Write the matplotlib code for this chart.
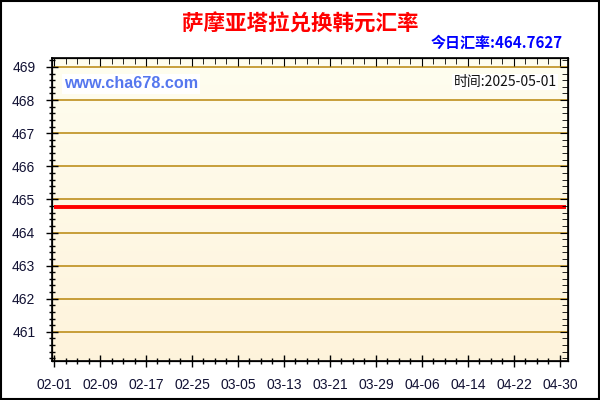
import matplotlib
matplotlib.use("Agg")
import matplotlib.pyplot as plt
import matplotlib.dates as mdates
import numpy as np
from datetime import datetime

plt.rcParams['font.family'] = ['Liberation Sans', 'Noto Sans CJK SC', 'DejaVu Sans']

title = "萨摩亚塔拉兑换韩元汇率"
today_label = "今日汇率:464.7627"
site = "www.cha678.com"
time_label = "时间:2025-05-01"
dates = ["2025-02-01", "2025-05-01"]
rates = [464.7627, 464.7627]
x_ticks = ["02-01", "02-09", "02-17", "02-25", "03-05", "03-13", "03-21",
           "03-29", "04-06", "04-14", "04-22", "04-30"]
y_ticks = [461, 462, 463, 464, 465, 466, 467, 468, 469]

fig = plt.figure(figsize=(6, 4), dpi=100)
fig.patch.set_facecolor('white')
fig.add_artist(plt.Rectangle((0.001, 0.002), 0.997, 0.996, transform=fig.transFigure,
                             fill=False, edgecolor='black', linewidth=1.5))

ax = fig.add_axes([52/600, (400-361)/400, 516/600, (361-58)/400])

xd = [mdates.date2num(datetime.strptime(d, "%Y-%m-%d")) for d in dates]
x0 = mdates.date2num(datetime(2025, 2, 1))
tick_pos = [mdates.date2num(datetime.strptime("2025-" + t, "%Y-%m-%d")) for t in x_ticks]
xlim = (x0 - 0.35, tick_pos[-1] + 1.4)
ylim = (460.12, 469.27)

grad = np.linspace(0, 1, 256).reshape(256, 1, 1)
top = np.array([1.0, 0.996, 0.94])
bot = np.array([0.996, 0.953, 0.86])
img = top + (bot - top) * grad * np.ones((1, 1, 3))
ax.imshow(img, extent=[xlim[0], xlim[1], ylim[0], ylim[1]], aspect='auto',
          origin='upper', zorder=0)

for y in y_ticks:
    ax.axhline(y, color='#B8860B', linewidth=1.1, zorder=1)

ax.plot(xd, rates, color='#FF0000', linewidth=2.8, zorder=3, solid_capstyle='butt')

ax.set_xlim(*xlim)
ax.set_ylim(*ylim)
ax.set_xticks(tick_pos)
ax.set_xticklabels(x_ticks)
ax.set_xticks(np.arange(x0, tick_pos[-1] + 1, 2), minor=True)
ax.set_yticks(y_ticks)
ax.set_yticklabels([str(v) for v in y_ticks])
ax.set_yticks(np.arange(460.2, 469.3, 0.2), minor=True)
ax.tick_params(axis='both', which='major', direction='inout', length=8, width=1,
               labelsize=10, colors='black', labelcolor='#111133')
ax.tick_params(axis='both', which='minor', direction='inout', length=5, width=1)
ax.tick_params(axis='y', which='major', pad=8)
ax.tick_params(axis='x', which='major', pad=8)
for s in ax.spines.values():
    s.set_linewidth(1.2)
    s.set_color('black')

axr = ax.twinx()
axr.set_ylim(*ylim)
axr.set_yticks(y_ticks)
axr.set_yticks(np.arange(460.2, 469.3, 0.2), minor=True)
axr.tick_params(axis='y', which='major', direction='in', length=6, labelright=False)
axr.tick_params(axis='y', which='minor', direction='in', length=4)
axt = ax.twiny()
axt.set_xlim(*xlim)
axt.set_xticks(tick_pos)
axt.set_xticks(np.arange(x0, tick_pos[-1] + 1, 2), minor=True)
axt.tick_params(axis='x', which='major', direction='in', length=6, labeltop=False)
axt.tick_params(axis='x', which='minor', direction='in', length=4)

fig.text(0.5, 1 - 24/400, title, ha='center', va='center', color='#FF0000',
         fontsize=15.5, fontweight='bold', family=['Noto Sans CJK SC', 'DejaVu Sans'])
fig.text(563/600, 1 - 43/400, today_label, ha='right', va='center', color='#0000FF',
         fontsize=10.8, fontweight='bold', family=['Noto Sans CJK SC', 'DejaVu Sans'])
fig.text(64/600, 1 - 84/400, site, ha='left', va='center', color='#5577EE',
         fontsize=11.6, fontweight='bold', family=['Liberation Sans'],
         bbox=dict(facecolor='white', edgecolor='none', pad=1.5))
fig.text(557/600, 1 - 82/400, time_label, ha='right', va='center', color='#111111',
         fontsize=10, family=['Noto Sans CJK SC', 'DejaVu Sans'],
         bbox=dict(facecolor='white', edgecolor='none', pad=1))

fig.savefig("out.png", dpi=100)
